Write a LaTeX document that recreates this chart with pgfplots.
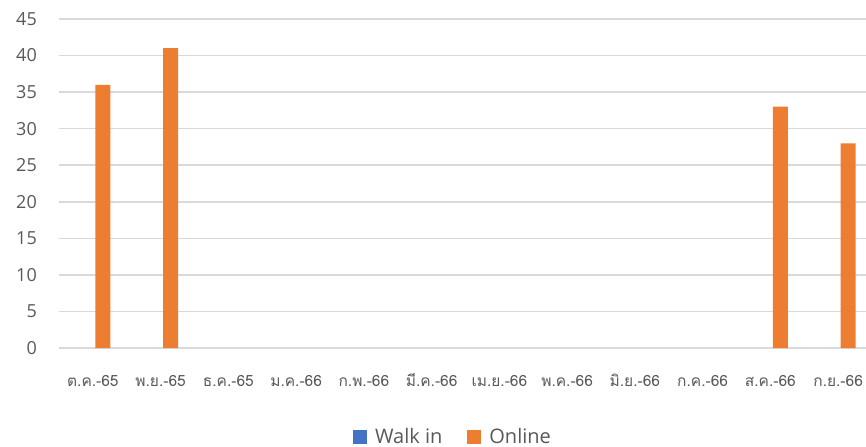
\documentclass[border=0pt]{standalone}
\usepackage{fontspec}
\setmainfont{Open Sans}
\newfontfamily\thaifont[Script=Thai]{Loma}
\usepackage{pgfplots}
\pgfplotsset{compat=1.18}
\definecolor{walkin}{HTML}{4472C4}
\definecolor{online}{HTML}{ED7D31}
\definecolor{txtgray}{HTML}{595959}
\definecolor{gridgray}{HTML}{D9D9D9}
\pgfplotsset{sqleg/.style={legend image code/.code={\fill[#1] (0bp,-7bp) rectangle (14bp,7bp);}}}
\begin{document}
\begin{tikzpicture}
\useasboundingbox (-59bp,-99bp) rectangle (807bp,348bp);
\begin{axis}[
    scale only axis,
    width=813bp, height=329bp,
    ybar=5bp, bar width=15bp,
    xmin=-0.5, xmax=11.5,
    ymin=0, ymax=45,
    ytick={0,5,...,45},
    xtick={0,...,11},
    xticklabels={ต.ค.-65, พ.ย.-65, ธ.ค.-65, ม.ค.-66, ก.พ.-66, มี.ค.-66, เม.ย.-66, พ.ค.-66, มิ.ย.-66, ก.ค.-66, ส.ค.-66, ก.ย.-66},
    axis line style={draw=none},
    major tick length=0pt,
    ymajorgrids,
    grid style={gridgray, line width=1.5bp},
    /pgf/number format/assume math mode=true,
    yticklabel style={font=\fontsize{18bp}{20bp}\selectfont, text=txtgray, anchor=east, inner sep=0pt, xshift=-22bp},
    xticklabel style={font=\thaifont\fontsize{15.5bp}{17bp}\selectfont, text=txtgray, anchor=base, inner sep=0pt, yshift=-38bp},
    legend style={at={(0.4846,-0.2705)}, anchor=center, draw=none, font=\fontsize{20bp}{22bp}\selectfont, text=txtgray, legend columns=-1,
        /tikz/every odd column/.append style={column sep=6bp},
        /tikz/every even column/.append style={column sep=23bp}, inner sep=0pt},
]
% Walk in: every month 0, so no visible bar
\addplot[draw=none, fill=none, sqleg=walkin] coordinates {
    (0,0) (1,0) (2,0) (3,0) (4,0) (5,0) (6,0) (7,0) (8,0) (9,0) (10,0) (11,0)
};
\addlegendentry{Walk in}
\addplot[fill=online, draw=none, sqleg=online,
    unbounded coords=discard, y filter/.expression={y==0 ? nan : y}] coordinates {
    (0,36) (1,41) (2,0) (3,0) (4,0) (5,0) (6,0) (7,0) (8,0) (9,0) (10,33) (11,28)
};
\addlegendentry{Online}
\end{axis}
\end{tikzpicture}
\end{document}
